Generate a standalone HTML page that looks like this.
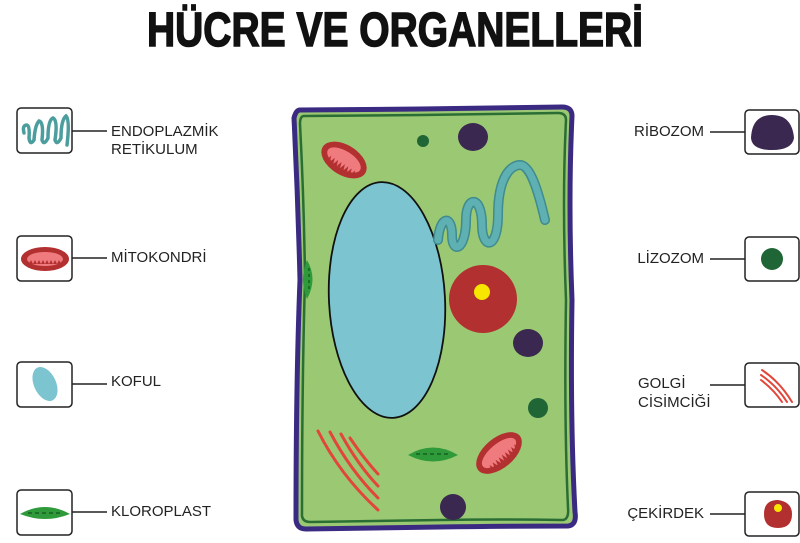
<!DOCTYPE html>
<html><head><meta charset="utf-8"><style>
html,body{margin:0;padding:0;background:#fff;}
svg{display:block;}
text{font-family:"Liberation Sans",sans-serif;}
</style></head><body>
<svg width="800" height="543" viewBox="0 0 800 543" xmlns="http://www.w3.org/2000/svg">
<text x="147" y="46" font-size="48" font-weight="bold" fill="#111" stroke="#111" stroke-width="1.5" textLength="496" lengthAdjust="spacingAndGlyphs">HÜCRE VE ORGANELLERİ</text>

<!-- cell -->
<path d="M300 110 Q296 110 294 118 Q298 200 300 280 Q296 380 296 520 Q297 529 306 529 L440 527 Q500 526 568 526 Q577 525 575 512 Q570 420 572 300 Q568 200 572 116 Q572 107 562 107 L420 109 Z" fill="#9bc873" stroke="#3b2a82" stroke-width="5"/>
<path d="M304 116 Q300 116 300 124 Q304 200 305 280 Q302 380 302 516 Q303 522 310 522 L440 520 Q500 519 563 520 Q569 519 568 508 Q564 420 566 300 Q562 200 566 120 Q566 113 558 113 L420 115 Z" fill="none" stroke="#2a6e34" stroke-width="2.5"/>

<!-- vacuole -->
<ellipse cx="387" cy="300" rx="58" ry="118" transform="rotate(-3 387 300)" fill="#7cc4d0" stroke="#111" stroke-width="1.8"/>
<!-- ER -->
<g fill="none" stroke-linecap="round" stroke-linejoin="round">
<path d="M438 240 C440 215 452 215 452 235 C452 255 466 250 466 220 C466 195 482 195 482 225 C482 250 498 250 498 215 C498 175 512 165 520 165 C530 165 538 190 545 220" stroke="#3f8b8e" stroke-width="10"/>
<path d="M438 240 C440 215 452 215 452 235 C452 255 466 250 466 220 C466 195 482 195 482 225 C482 250 498 250 498 215 C498 175 512 165 520 165 C530 165 538 190 545 220" stroke="#5fb0b3" stroke-width="7"/>
</g>
<!-- nucleus -->
<circle cx="483" cy="299" r="34" fill="#b33030"/>
<circle cx="482" cy="292" r="8" fill="#f7e600"/>
<!-- ribosomes -->
<ellipse cx="473" cy="137" rx="15" ry="14" fill="#3a2850"/>
<ellipse cx="528" cy="343" rx="15" ry="14" fill="#3a2850"/>
<ellipse cx="453" cy="507" rx="13" ry="13" fill="#3a2850"/>
<!-- lysosomes -->
<circle cx="423" cy="141" r="6" fill="#1f6535"/>
<circle cx="538" cy="408" r="10" fill="#1f6535"/>
<!-- mitochondria -->
<g transform="translate(344,160) rotate(32)">
<ellipse rx="25" ry="15" fill="#b33030"/><ellipse rx="19" ry="9" fill="#ef7b7e"/>
<path d="M-15 9 l2 -6 l2 6 l2 -6 l2 6 l2 -6 l2 6 l2 -6 l2 6 l2 -6 l2 6 l2 -6 l2 6 l2 -6 l2 6 l2 -6 l2 6 Z" fill="#b33030"/>
</g>
<g transform="translate(499,453) rotate(-40)">
<ellipse rx="27" ry="15" fill="#b33030"/><ellipse rx="21" ry="9" fill="#ef7b7e"/>
<path d="M-17 9 l2 -6 l2 6 l2 -6 l2 6 l2 -6 l2 6 l2 -6 l2 6 l2 -6 l2 6 l2 -6 l2 6 l2 -6 l2 6 l2 -6 l2 6 l2 -6 l2 6 Z" fill="#b33030"/>
</g>
<!-- chloroplasts -->
<path d="M408 455 Q433 440 458 455 Q433 468 408 455 Z" fill="#2f9a3a"/>
<path d="M416 454 L450 454" stroke="#1d6e27" stroke-width="2" stroke-dasharray="4 3"/>
<path d="M307 260 Q318 279 307 299 Q299 279 307 260 Z" fill="#2f9a3a"/>
<path d="M309 268 L309 292" stroke="#1d6e27" stroke-width="2" stroke-dasharray="3 3"/>
<!-- golgi -->
<g stroke="#e2463a" stroke-width="3" stroke-linecap="round" fill="none">
<path d="M318 431 Q340 475 378 510"/>
<path d="M330 432 Q350 470 378 498"/>
<path d="M341 434 Q358 465 378 486"/>
<path d="M350 438 Q365 460 378 474"/>
</g>

<!-- boxes -->
<g fill="#fff" stroke="#222" stroke-width="1.5">
<rect x="17" y="108" width="55" height="45" rx="4"/>
<rect x="17" y="236" width="55" height="45" rx="4"/>
<rect x="17" y="362" width="55" height="45" rx="4"/>
<rect x="17" y="490" width="55" height="45" rx="4"/>
<rect x="745" y="110" width="54" height="44" rx="4"/>
<rect x="745" y="237" width="54" height="44" rx="4"/>
<rect x="745" y="363" width="54" height="44" rx="4"/>
<rect x="745" y="492" width="54" height="44" rx="4"/>
</g>
<g stroke="#222" stroke-width="1.5">
<line x1="72" y1="131" x2="107" y2="131"/>
<line x1="72" y1="258" x2="107" y2="258"/>
<line x1="72" y1="384" x2="107" y2="384"/>
<line x1="72" y1="512" x2="107" y2="512"/>
<line x1="710" y1="132" x2="745" y2="132"/>
<line x1="710" y1="259" x2="745" y2="259"/>
<line x1="710" y1="385" x2="745" y2="385"/>
<line x1="710" y1="514" x2="745" y2="514"/>
</g>
<!-- icons -->
<path d="M24 133 Q22 125 27 125 Q30 126 29 138 Q30 146 34 140 Q35 125 39 121 Q44 122 42 140 Q44 146 48 138 Q48 120 53 118 Q58 120 55 140 Q57 146 61 138 Q61 120 66 116 Q70 120 67 145" fill="none" stroke="#4c9e9e" stroke-width="3.5" stroke-linecap="round"/>
<ellipse cx="45" cy="259" rx="24" ry="12" fill="#b33030"/><ellipse cx="45" cy="259" rx="18" ry="7" fill="#ef7b7e"/>
<path d="M29 264 l2 -4 l2 4 l2 -4 l2 4 l2 -4 l2 4 l2 -4 l2 4 l2 -4 l2 4 l2 -4 l2 4 l2 -4 l2 4 l2 -4 l2 4 Z" fill="#b33030"/>
<ellipse cx="45" cy="384" rx="11" ry="18" transform="rotate(-25 45 384)" fill="#7cc4d0"/>
<path d="M20 514 Q45 500 70 514 Q45 524 20 514 Z" fill="#2f9a3a"/>
<path d="M28 513 L62 513" stroke="#1d6e27" stroke-width="2" stroke-dasharray="4 3"/>
<path d="M772 115 Q792 115 794 138 Q792 150 772 150 Q752 150 751 138 Q752 115 772 115 Z" fill="#3a2850"/>
<circle cx="772" cy="259" r="11" fill="#1f6535"/>
<g stroke="#e2463a" stroke-width="2" fill="none" stroke-linecap="round">
<path d="M762 370 Q780 382 792 402"/><path d="M761 375 Q777 386 787 402"/><path d="M761 380 Q774 390 782 402"/>
</g>
<path d="M778 500 Q792 502 792 514 Q792 528 778 528 Q764 528 764 514 Q764 500 778 500 Z" fill="#b33030"/>
<circle cx="778" cy="508" r="4" fill="#f7e600"/>

<!-- labels -->
<g font-size="15" fill="#222">
<text x="111" y="136">ENDOPLAZMİK</text>
<text x="111" y="154">RETİKULUM</text>
<text x="111" y="262">MİTOKONDRİ</text>
<text x="111" y="386">KOFUL</text>
<text x="111" y="516">KLOROPLAST</text>
<text x="704" y="136" text-anchor="end">RİBOZOM</text>
<text x="704" y="263" text-anchor="end">LİZOZOM</text>
<text x="638" y="388">GOLGİ</text>
<text x="638" y="407">CİSİMCİĞİ</text>
<text x="704" y="518" text-anchor="end">ÇEKİRDEK</text>
</g>
</svg>
</body></html>
